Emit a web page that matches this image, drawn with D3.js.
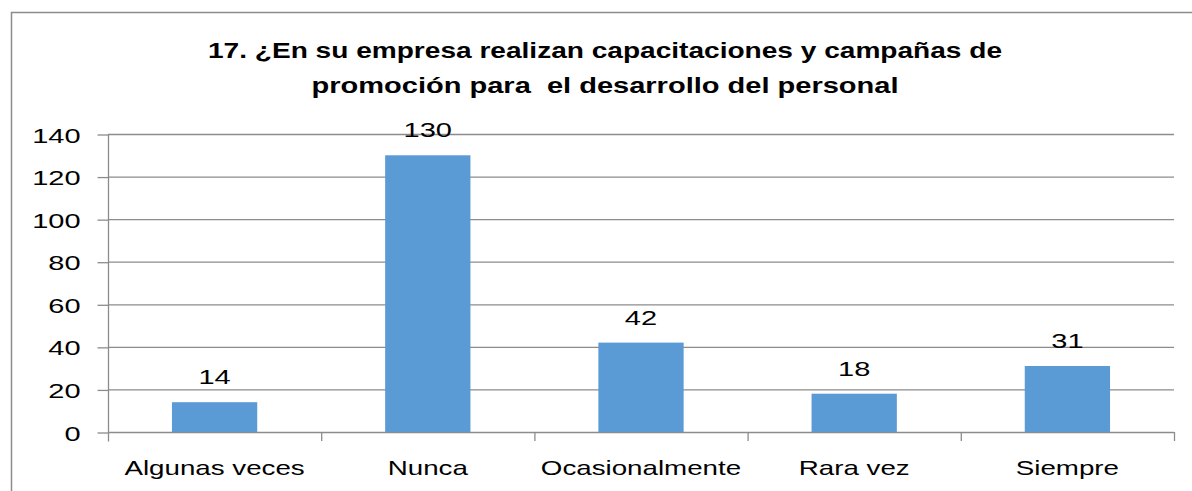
<!DOCTYPE html>
<html lang="es">
<head>
  <meta charset="UTF-8">
  <title>Capacitaciones y campañas</title>
  <script src="https://d3js.org/d3.v7.min.js"></script>
  <style>
    body { margin: 0; background: #fff; }
    text { font-family: "Liberation Sans", Arial, sans-serif; fill: #000; }
    .title { white-space: pre; }
  </style>
</head>
<body>
  <div id="chart"></div>
  <script>
    // Data
    const categories = ['Algunas veces', 'Nunca', 'Ocasionalmente', 'Rara vez', 'Siempre'];
    const values = [14, 130, 42, 18, 31];
    const yTicks = [0, 20, 40, 60, 80, 100, 120, 140];
    const titleLines = ['17. ¿En su empresa realizan capacitaciones y campañas de',
                        'promoción para  el desarrollo del personal'];

    const width = 1192, height = 491;
    const plot = {left: 108, right: 1174, top: 134, bottom: 432};
    const numStretch = 1.38; // text in the reference is horizontally stretched
    const catStretch = 1.32;

    const svg = d3.select('#chart').append('svg')
      .attr('width', width)
      .attr('height', height);

    // outer chart border (runs off the right/bottom edge)
    svg.append('rect')
      .attr('x', 11.5).attr('y', 12.5)
      .attr('width', 1300).attr('height', 600)
      .attr('fill', 'none')
      .attr('stroke', '#8c8c8c')
      .attr('stroke-width', 1.5);

    function widen(sel, k) {
      sel.each(function() {
        const len = this.getComputedTextLength();
        d3.select(this).attr('textLength', len * k).attr('lengthAdjust', 'spacingAndGlyphs');
      });
    }

    // Title
    const titleWidths = [794, 587];
    svg.selectAll('.title')
      .data(titleLines)
      .enter().append('text')
      .attr('class', 'title')
      .attr('x', 605)
      .attr('y', (d, i) => 58 + i * 35)
      .attr('text-anchor', 'middle')
      .attr('font-size', 22)
      .attr('font-weight', 'bold')
      .attr('textLength', (d, i) => titleWidths[i])
      .attr('lengthAdjust', 'spacingAndGlyphs')
      .text(d => d);

    // Scales
    const x = d3.scaleBand()
      .domain(categories)
      .range([plot.left, plot.right])
      .paddingInner(0.6)
      .paddingOuter(0.3);

    const y = d3.scaleLinear()
      .domain([0, 140])
      .range([plot.bottom, plot.top]);

    // Gridlines
    svg.append('g')
      .selectAll('line')
      .data(yTicks.slice(1))
      .enter().append('line')
      .attr('x1', plot.left).attr('x2', plot.right)
      .attr('y1', d => y(d) + 0.5).attr('y2', d => y(d) + 0.5)
      .attr('stroke', '#8c8c8c')
      .attr('stroke-width', 1.3);

    // Y axis
    const yAxis = svg.append('g')
      .attr('transform', `translate(${plot.left + 0.5},0.5)`)
      .call(d3.axisLeft(y).tickValues(yTicks).tickSize(11).tickSizeOuter(0).tickPadding(28));
    yAxis.select('.domain').attr('stroke', '#8c8c8c').attr('stroke-width', 1.3)
      .attr('d', `M0,${plot.top}V${plot.bottom + 9}`);
    yAxis.selectAll('.tick line').attr('stroke', '#8c8c8c').attr('stroke-width', 1.3);
    yAxis.selectAll('.tick text')
      .attr('font-size', 21)
      .attr('fill', '#000')
      .attr('font-family', '"Liberation Sans", Arial, sans-serif')
      .attr('dy', '0.36em');
    // right-align widened labels at x = 80
    yAxis.selectAll('.tick text').each(function() {
      const len = this.getComputedTextLength() * numStretch;
      d3.select(this).attr('text-anchor', 'start').attr('x', 80 - plot.left - len)
        .attr('textLength', len).attr('lengthAdjust', 'spacingAndGlyphs');
    });

    // X axis baseline and category separators
    const step = x.step();
    svg.append('line')
      .attr('x1', plot.left).attr('x2', plot.right)
      .attr('y1', plot.bottom + 0.5).attr('y2', plot.bottom + 0.5)
      .attr('stroke', '#8c8c8c').attr('stroke-width', 1.3);
    const seps = categories.map(c => x(c) + x.bandwidth() / 2 + step / 2);
    svg.append('g').selectAll('line')
      .data(seps)
      .enter().append('line')
      .attr('x1', d => d + 0.5).attr('x2', d => d + 0.5)
      .attr('y1', plot.bottom).attr('y2', plot.bottom + 9)
      .attr('stroke', '#8c8c8c').attr('stroke-width', 1.3);

    // Bars
    svg.selectAll('.bar')
      .data(values)
      .enter().append('rect')
      .attr('class', 'bar')
      .attr('x', (d, i) => x(categories[i]))
      .attr('y', d => y(d))
      .attr('width', x.bandwidth())
      .attr('height', d => y(0) - y(d))
      .attr('fill', '#5b9bd5');

    // Data labels
    svg.selectAll('.val')
      .data(values)
      .enter().append('text')
      .attr('class', 'val')
      .attr('x', (d, i) => x(categories[i]) + x.bandwidth() / 2)
      .attr('y', d => y(d) - 18)
      .attr('text-anchor', 'middle')
      .attr('font-size', 21)
      .text(d => d)
      .call(widen, numStretch);

    // Category labels
    svg.selectAll('.cat')
      .data(categories)
      .enter().append('text')
      .attr('class', 'cat')
      .attr('x', d => x(d) + x.bandwidth() / 2)
      .attr('y', 475)
      .attr('text-anchor', 'middle')
      .attr('font-size', 21)
      .text(d => d)
      .call(widen, catStretch);
  </script>
</body>
</html>
